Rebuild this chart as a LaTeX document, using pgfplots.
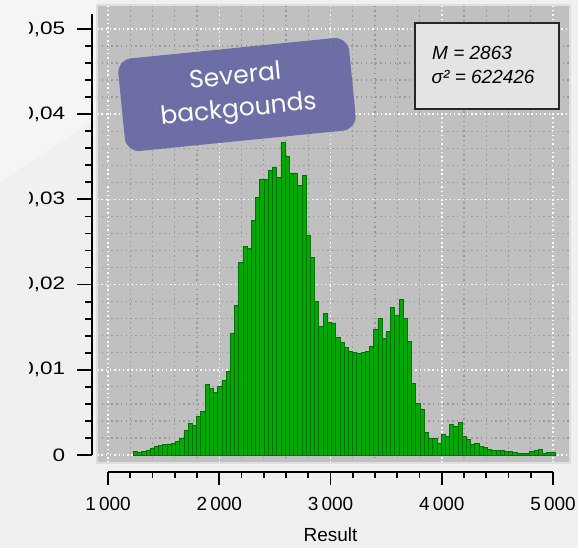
\documentclass[border=0pt]{standalone}
\usepackage{pgfplots}
\pgfplotsset{compat=1.18}
\usepackage{pgfplotstable}
\usepackage{fontspec}
\setmainfont{Liberation Sans}
\newfontfamily\notefont{Poppins}

\definecolor{pagebg}{RGB}{240,240,240}
\definecolor{plotbg}{RGB}{192,192,192}
\definecolor{framegray}{RGB}{222,222,222}
\definecolor{minorgrid}{RGB}{150,150,150}
\definecolor{barfill}{RGB}{0,170,0}
\definecolor{baredge}{RGB}{0,112,0}
\definecolor{notefill}{RGB}{104,104,164}
\definecolor{boxfill}{RGB}{228,228,228}

% histogram: left bin edge and relative frequency (100 bins)
\pgfplotstableread{
x y
1228.0 0.0004
1265.9 0.0003
1303.8 0.0004
1341.7 0.0005
1379.6 0.0008
1417.5 0.0010
1455.4 0.0011
1493.3 0.0012
1531.2 0.0013
1569.1 0.0014
1607.0 0.0016
1644.9 0.0020
1682.8 0.0029
1720.7 0.0037
1758.6 0.0035
1796.5 0.0045
1834.4 0.0051
1872.3 0.0083
1910.2 0.0078
1948.1 0.0073
1986.0 0.0081
2023.9 0.0088
2061.8 0.0098
2099.7 0.0143
2137.6 0.0176
2175.5 0.0226
2213.4 0.0245
2251.3 0.0242
2289.2 0.0275
2327.1 0.0302
2365.0 0.0324
2402.9 0.0324
2440.8 0.0334
2478.7 0.0338
2516.6 0.0326
2554.5 0.0367
2592.4 0.0350
2630.3 0.0331
2668.2 0.0331
2706.1 0.0316
2744.0 0.0328
2781.9 0.0258
2819.8 0.0232
2857.7 0.0180
2895.6 0.0151
2933.5 0.0166
2971.4 0.0156
3009.3 0.0155
3047.2 0.0138
3085.1 0.0132
3123.0 0.0126
3160.9 0.0122
3198.8 0.0120
3236.7 0.0119
3274.6 0.0120
3312.5 0.0122
3350.4 0.0128
3388.3 0.0147
3426.2 0.0160
3464.1 0.0137
3502.0 0.0145
3539.9 0.0173
3577.8 0.0164
3615.7 0.0183
3653.6 0.0160
3691.5 0.0133
3729.4 0.0084
3767.3 0.0061
3805.2 0.0054
3843.1 0.0026
3881.0 0.0019
3918.9 0.0019
3956.8 0.0014
3994.7 0.0024
4032.6 0.0022
4070.5 0.0036
4108.4 0.0033
4146.3 0.0038
4184.2 0.0022
4222.1 0.0018
4260.0 0.0012
4297.9 0.0014
4335.8 0.0010
4373.7 0.0009
4411.6 0.0006
4449.5 0.0005
4487.4 0.0005
4525.3 0.0005
4563.2 0.0004
4601.1 0.0004
4639.0 0.0003
4676.9 0.0002
4714.8 0.0002
4752.7 0.0002
4790.6 0.0004
4828.5 0.0005
4866.4 0.0006
4904.3 0.0002
4942.2 0.0003
4980.1 0.0003
5018.0 0
}\histdata

\begin{document}
\begin{tikzpicture}[x=1pt,y=1pt]
\path[use as bounding box] (0,0) rectangle (578,548);
\fill[pagebg] (0,0) rectangle (578,548);
\fill[white,opacity=0.35] (0,548) -- (97,548) -- (97,430) -- (0,366) -- cycle;

\begin{scope}
\clip (29,0) rectangle (578,548);

% plot area with grid and bars
\begin{axis}[
  at={(97pt,85pt)}, anchor=south west,
  width=473pt, height=458pt, scale only axis,
  xmin=901.1, xmax=5152.8, ymin=-0.000939, ymax=0.052817,
  axis background/.style={fill=plotbg},
  axis line style={draw=framegray, line width=1.5pt},
  xtick={1000,2000,3000,4000,5000},
  ytick={0,0.01,0.02,0.03,0.04,0.05},
  minor x tick num=4, minor y tick num=4,
  xticklabels={}, yticklabels={},
  major tick length=0pt, minor tick length=0pt,
  grid=both,
  major grid style={white, line width=1.5pt, dash pattern=on 1.5pt off 2.8pt},
  minor grid style={minorgrid, line width=1.3pt, dash pattern=on 1.3pt off 3.5pt},
]
\addplot[ybar interval, fill=barfill, draw=baredge, line width=0.8pt] table {\histdata};
\end{axis}

% detached x axis
\begin{axis}[
  at={(108pt,76pt)}, anchor=south west,
  width=445pt, height=10pt, scale only axis,
  xmin=1000, xmax=5000, ymin=0, ymax=1,
  axis x line=bottom, axis y line=none,
  axis line style={-, black, line width=2pt},
  xtick={1000,2000,3000,4000,5000},
  minor x tick num=4,
  tick align=outside,
  major tick length=13pt, minor tick length=6pt,
  tick style={black, line width=1.8pt},
  xticklabel style={font=\fontsize{19}{22}\selectfont, yshift=-9pt},
  /pgf/number format/1000 sep={\,},
  /pgf/number format/assume math mode=true,
  xlabel={Result},
  xlabel style={font=\fontsize{19}{22}\selectfont, yshift=-10pt},
  ytick=\empty,
  clip=false,
]
\addplot[draw=none] coordinates {(1000,0)};
\end{axis}

% detached y axis
\begin{axis}[
  at={(92pt,93pt)}, anchor=south west,
  width=10pt, height=441pt, scale only axis,
  xmin=0, xmax=1, ymin=0, ymax=0.05176,
  axis y line=left, axis x line=none,
  axis line style={-, black, line width=2pt},
  ytick={0,0.01,0.02,0.03,0.04,0.05},
  minor y tick num=4,
  tick align=outside,
  major tick length=15pt, minor tick length=7pt,
  tick style={black, line width=1.8pt},
  scaled y ticks=false,
  yticklabel style={font=\fontsize{18}{21}\selectfont, xscale=1.25, xshift=-6pt,
    /pgf/number format/fixed, /pgf/number format/precision=2,
    /pgf/number format/use comma},
  /pgf/number format/assume math mode=true,
  xtick=\empty,
  clip=false,
]
\addplot[draw=none] coordinates {(0,0)};
\end{axis}

% statistics box
\node[draw=black!85, line width=1.8pt, fill=boxfill, minimum width=144pt,
      minimum height=86pt, anchor=north west, inner sep=0pt] at (414,526) {};
\node[anchor=base west, inner sep=0pt, font=\itshape\fontsize{19}{22}\selectfont]
  at (432,488.7) {M = 2863};
\node[anchor=base west, inner sep=0pt, font=\itshape\fontsize{19}{22}\selectfont]
  at (431.5,464.7) {σ² = 622426};

% callout
\node[rotate=5.7, fill=notefill, fill opacity=0.92, text opacity=1,
      rounded corners=14pt, minimum width=232pt, minimum height=93pt,
      text=white, align=center, font=\notefont\fontsize{25}{33}\selectfont]
  at (237,453.5) {Several\\backgounds};
\end{scope}
\end{tikzpicture}
\end{document}
